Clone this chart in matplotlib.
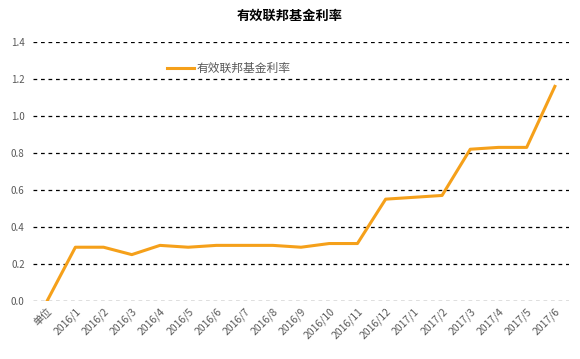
import matplotlib
matplotlib.use('Agg')
import matplotlib.pyplot as plt

plt.rcParams['font.family'] = ['Noto Sans CJK SC', 'DejaVu Sans']

labels = ['单位', '2016/1', '2016/2', '2016/3', '2016/4', '2016/5', '2016/6',
          '2016/7', '2016/8', '2016/9', '2016/10', '2016/11', '2016/12',
          '2017/1', '2017/2', '2017/3', '2017/4', '2017/5', '2017/6']
rates = [0.0, 0.29, 0.29, 0.25, 0.30, 0.29, 0.30, 0.30, 0.30, 0.29, 0.31,
         0.31, 0.55, 0.56, 0.57, 0.82, 0.83, 0.83, 1.16]
yticks = [0.0, 0.2, 0.4, 0.6, 0.8, 1.0, 1.2, 1.4]

fig = plt.figure(figsize=(5.8, 3.59), dpi=100)
ax = fig.add_axes([0.057, 0.162, 0.924, 0.721])

x = list(range(len(labels)))
ax.plot(x, rates, color='#F5A01A', linewidth=2.2, label='有效联邦基金利率')

ax.set_xlim(-0.5, len(labels) - 0.5)
ax.set_ylim(0, 1.4)
ax.set_yticks(yticks)
ax.set_yticklabels(['%.1f' % v for v in yticks], fontsize=7, color='#595959')
ax.set_xticks(x)
ax.set_xticklabels(labels, rotation=45, ha='right', rotation_mode='anchor',
                   fontsize=7.5, color='#595959')
ax.tick_params(length=0, pad=6)
ax.tick_params(axis='x', pad=4)
for y in yticks:
    ax.axhline(y, color='black', linestyle=(0, (3, 3)), linewidth=0.9, zorder=0)
for s in ax.spines.values():
    s.set_visible(False)

ax.legend(loc='upper left', bbox_to_anchor=(0.23, 0.965), frameon=False,
          fontsize=8.5, labelcolor='#595959', handlelength=2.3, handletextpad=0.2)
fig.text(0.5, 0.955, '有效联邦基金利率', ha='center', va='center',
         fontsize=9.5, fontweight='bold', color='black')

fig.savefig('out.png', dpi=100)
